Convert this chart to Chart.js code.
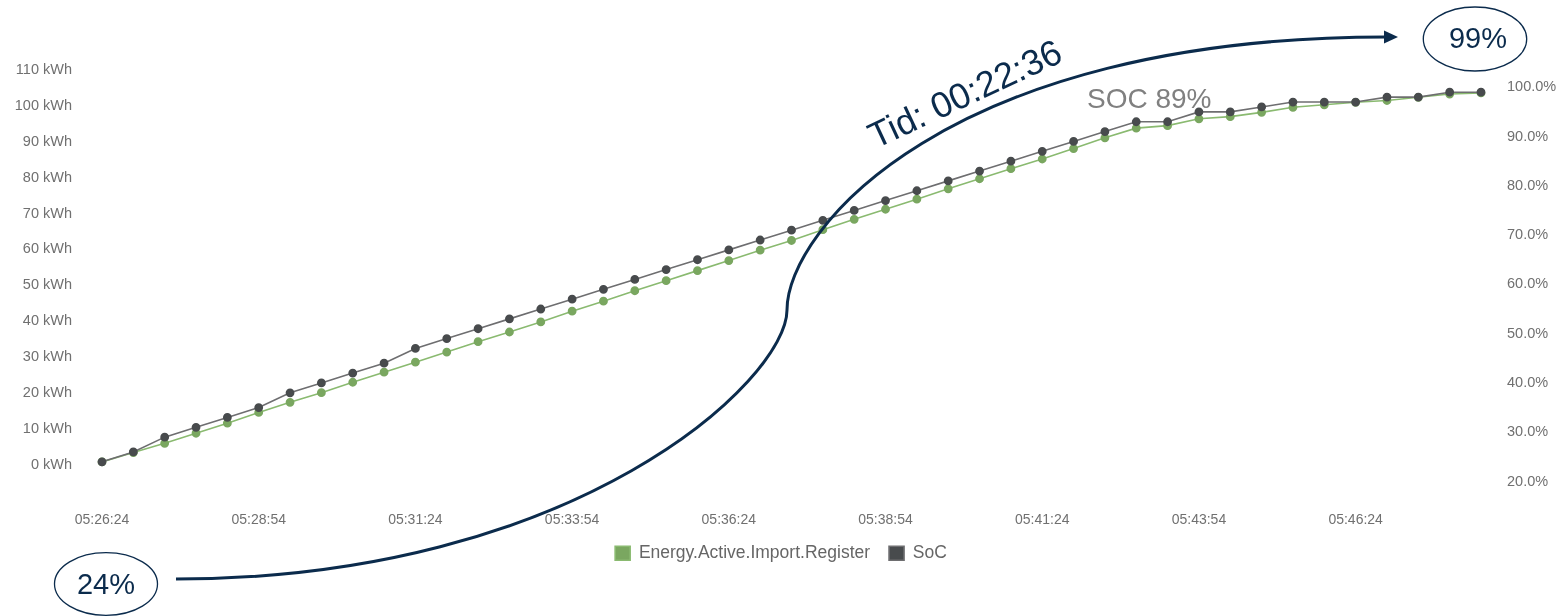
<!DOCTYPE html>
<html>
<head>
<meta charset="utf-8">
<script src="https://cdn.jsdelivr.net/npm/chart.js@4"></script>
<style>
  html, body { margin: 0; padding: 0; background: #fff; }
  #wrap { position: relative; width: 1562px; height: 616px; font-family: "Liberation Sans", Arial, sans-serif; }
  #chartJSContainer { position: absolute; left: 0; top: 0; }
  #overlay { position: absolute; left: 0; top: 0; pointer-events: none; }
  .note { position: absolute; color: #0b2b4c; white-space: nowrap; line-height: 1; }
</style>
</head>
<body>
<div id="wrap">
  <canvas id="chartJSContainer" width="1562" height="616"></canvas>
  <svg id="overlay" width="1562" height="616">
    <ellipse cx="106" cy="584" rx="51.5" ry="31.3" fill="none" stroke="#0b2b4c" stroke-width="1.3"/>
    <ellipse cx="1475" cy="39" rx="51.7" ry="32" fill="none" stroke="#0b2b4c" stroke-width="1.3"/>
    <path d="M176,579 C576,579 787,380 787,310 C787,230 947,37 1386,37" fill="none" stroke="#0b2b4c" stroke-width="3"/>
    <polygon points="1398,37 1384,30.5 1384,43.5" fill="#0b2b4c"/>
  </svg>
  <div class="note" style="left:106px;top:584px;transform:translate(-50%,-50%);font-size:29px;">24%</div>
  <div class="note" style="left:1478px;top:38px;transform:translate(-50%,-50%);font-size:29px;">99%</div>
  <div class="note" style="left:965px;top:94px;transform:translate(-50%,-50%) rotate(-25deg);font-size:36px;">Tid: 00:22:36</div>
  <div class="note" style="left:1087px;top:85px;font-size:28px;color:#808080;">SOC 89%</div>
</div>
<script>
// tidspunkter, 30 s mellom hver måling
var times = [
  '05:26:24','05:26:54','05:27:24','05:27:54','05:28:24','05:28:54','05:29:24','05:29:54','05:30:24','05:30:54',
  '05:31:24','05:31:54','05:32:24','05:32:54','05:33:24','05:33:54','05:34:24','05:34:54','05:35:24','05:35:54',
  '05:36:24','05:36:54','05:37:24','05:37:54','05:38:24','05:38:54','05:39:24','05:39:54','05:40:24','05:40:54',
  '05:41:24','05:41:54','05:42:24','05:42:54','05:43:24','05:43:54','05:44:24','05:44:54','05:45:24','05:45:54',
  '05:46:24','05:46:54','05:47:24','05:47:54','05:48:24'
];

// kWh
var energy = [
  0.8, 3.4, 6.0, 8.8, 11.6, 14.6, 17.4, 20.1, 23.0, 25.8,
  28.6, 31.4, 34.3, 37.0, 39.8, 42.8, 45.6, 48.5, 51.3, 54.1,
  56.9, 59.8, 62.5, 65.5, 68.4, 71.2, 74.0, 76.9, 79.7, 82.5,
  85.2, 88.1, 91.1, 93.8, 94.5, 96.4, 97.0, 98.2, 99.6, 100.3,
  101.0, 101.5, 102.4, 103.3, 103.6
];

// %
var soc = [
  24, 26, 29, 31, 33, 35, 38, 40, 42, 44,
  47, 49, 51, 53, 55, 57, 59, 61, 63, 65,
  67, 69, 71, 73, 75, 77, 79, 81, 83, 85,
  87, 89, 91, 93, 93, 95, 95, 96, 97, 97,
  97, 98, 98, 99, 99
];

var green = 'rgb(122,167,96)';
var dark = 'rgb(72,75,77)';
var tickColor = '#707070';
var tickFont = { family: 'Liberation Sans', size: 14 };

var options = {
  type: 'line',
  data: {
    labels: times,
    datasets: [
      {
        label: 'Energy.Active.Import.Register',
        data: energy,
        yAxisID: 'y',
        order: 1,
        borderColor: 'rgb(138,186,112)',
        backgroundColor: green,
        pointBackgroundColor: green,
        pointBorderColor: green,
        borderWidth: 1.6,
        pointRadius: 3.6,
        tension: 0
      },
      {
        label: 'SoC',
        data: soc,
        yAxisID: 'y1',
        order: 0,
        borderColor: 'rgb(110,110,112)',
        backgroundColor: dark,
        pointBackgroundColor: dark,
        pointBorderColor: dark,
        borderWidth: 1.6,
        pointRadius: 3.6,
        tension: 0
      }
    ]
  },
  options: {
    responsive: false,
    animation: false,
    layout: { padding: { top: 70, left: 0, right: 0, bottom: 44 } },
    plugins: {
      tooltip: { enabled: false },
      legend: {
        position: 'bottom',
        labels: {
          sort: function (a, b) { return a.datasetIndex - b.datasetIndex; },
          boxWidth: 15,
          boxHeight: 14,
          padding: 19,
          color: '#666',
          font: { family: 'Liberation Sans', size: 17.5 }
        }
      }
    },
    scales: {
      x: {
        grid: { display: false, drawTicks: false },
        border: { display: false },
        ticks: {
          color: tickColor,
          font: tickFont,
          padding: 30,
          maxRotation: 0,
          autoSkip: false,
          callback: function (v, i) { return i % 5 === 0 ? times[i] : null; }
        },
        afterFit: function (s) { s.height = 44; }
      },
      y: {
        position: 'left',
        min: -4.65,
        max: 110,
        grid: { display: false, drawTicks: false },
        border: { display: false },
        ticks: {
          stepSize: 10,
          includeBounds: false,
          color: tickColor,
          font: { family: 'Liberation Sans', size: 14.5 },
          padding: 30,
          callback: function (v) { return v + ' kWh'; }
        },
        afterFit: function (s) { s.width = 102; }
      },
      y1: {
        position: 'right',
        min: 20,
        max: 103.5,
        grid: { display: false, drawTicks: false },
        border: { display: false },
        ticks: {
          stepSize: 10,
          includeBounds: false,
          color: tickColor,
          font: { family: 'Liberation Sans', size: 14.5 },
          padding: 26,
          callback: function (v) { return v.toFixed(1) + '%'; }
        },
        afterFit: function (s) { s.width = 81; }
      }
    }
  }
};

var ctx = document.getElementById('chartJSContainer');
var myChart = new Chart(ctx, options);
</script>
</body>
</html>
